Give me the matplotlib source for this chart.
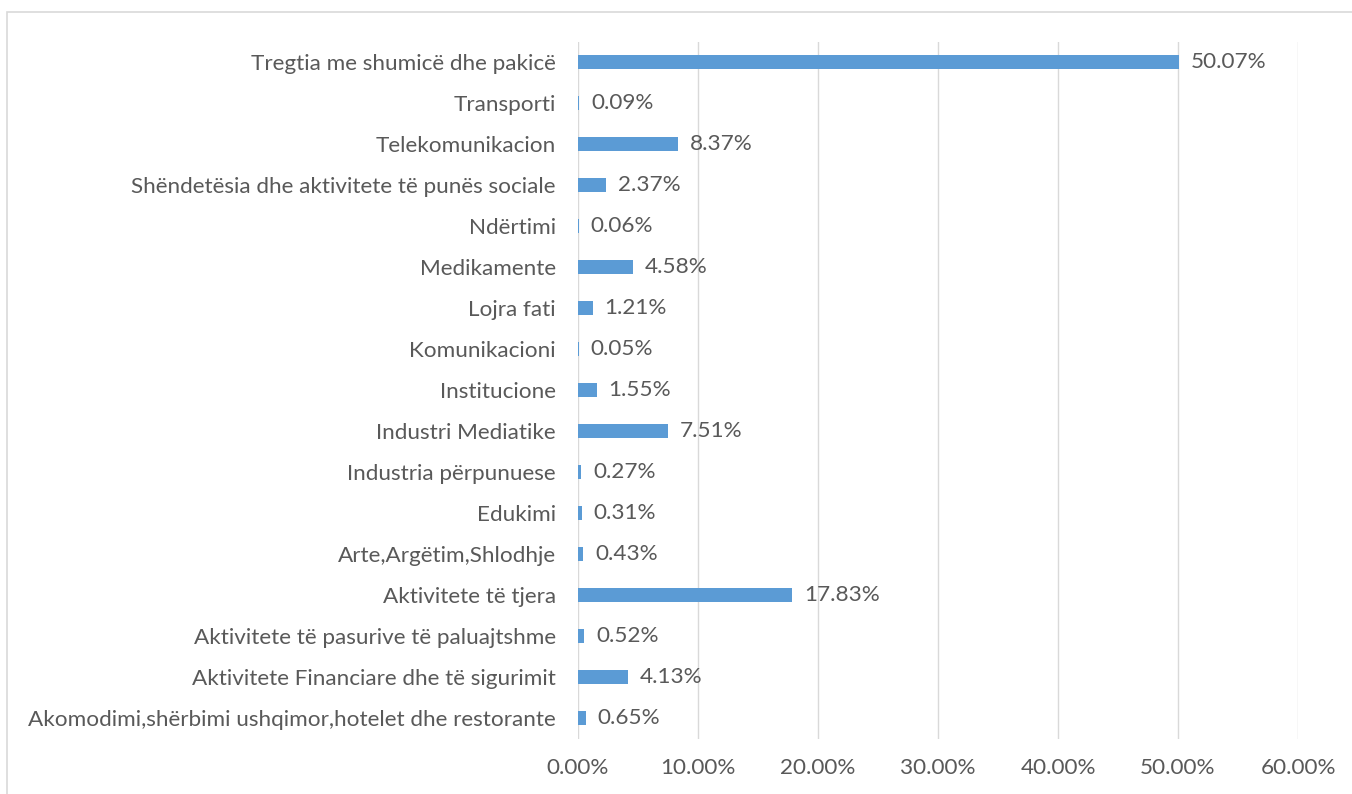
import matplotlib
matplotlib.use("Agg")
import matplotlib.pyplot as plt
from matplotlib.ticker import FuncFormatter, MultipleLocator
from matplotlib.patches import Rectangle

categories = [
    "Tregtia me shumicë dhe pakicë",
    "Transporti",
    "Telekomunikacion",
    "Shëndetësia dhe aktivitete të punës sociale",
    "Ndërtimi",
    "Medikamente",
    "Lojra fati",
    "Komunikacioni",
    "Institucione",
    "Industri Mediatike",
    "Industria përpunuese",
    "Edukimi",
    "Arte,Argëtim,Shlodhje",
    "Aktivitete të tjera",
    "Aktivitete të pasurive të paluajtshme",
    "Aktivitete Financiare dhe të sigurimit",
    "Akomodimi,shërbimi ushqimor,hotelet dhe restorante",
]
values = [50.07, 0.09, 8.37, 2.37, 0.06, 4.58, 1.21, 0.05, 1.55, 7.51,
          0.27, 0.31, 0.43, 17.83, 0.52, 4.13, 0.65]

plt.rcParams['font.family'] = ['Lato', 'DejaVu Sans']
text_color = '#595959'
bar_color = '#5B9BD5'
grid_color = '#D9D9D9'
fs = 16.2

fig = plt.figure(figsize=(13.52, 7.94), dpi=100)
fig.patches.append(Rectangle((7/1352, -0.1), 1.2, 1 - 12/794 + 0.1,
                             transform=fig.transFigure, fill=False,
                             edgecolor='#D9D9D9', linewidth=1.2))
ax = fig.add_axes([578/1352, 1 - 738.5/794, 720/1352, 697/794])

y = list(range(len(categories)))[::-1]
ax.barh(y, values, height=0.34, color=bar_color, linewidth=0, zorder=3)
for yi, v in zip(y, values):
    ax.annotate(f"{v:.2f}%", xy=(v, yi), xytext=(8.5, 0), textcoords='offset points',
                ha='left', va='center', fontsize=fs, color=text_color)

ax.set_xlim(0, 60)
ax.set_ylim(-0.5, len(categories) - 0.5)
ax.set_yticks(y)
ax.set_yticklabels(categories, fontsize=fs, color=text_color)
ax.xaxis.set_major_locator(MultipleLocator(10))
ax.xaxis.set_major_formatter(FuncFormatter(lambda x, p: f"{x:.2f}%"))
ax.tick_params(axis='x', labelsize=fs, labelcolor=text_color, length=0, pad=14)
ax.tick_params(axis='y', length=0, pad=16)
ax.grid(axis='x', color=grid_color, linewidth=1, zorder=0)
for s in ax.spines.values():
    s.set_visible(False)

fig.savefig("out.png", dpi=100)
